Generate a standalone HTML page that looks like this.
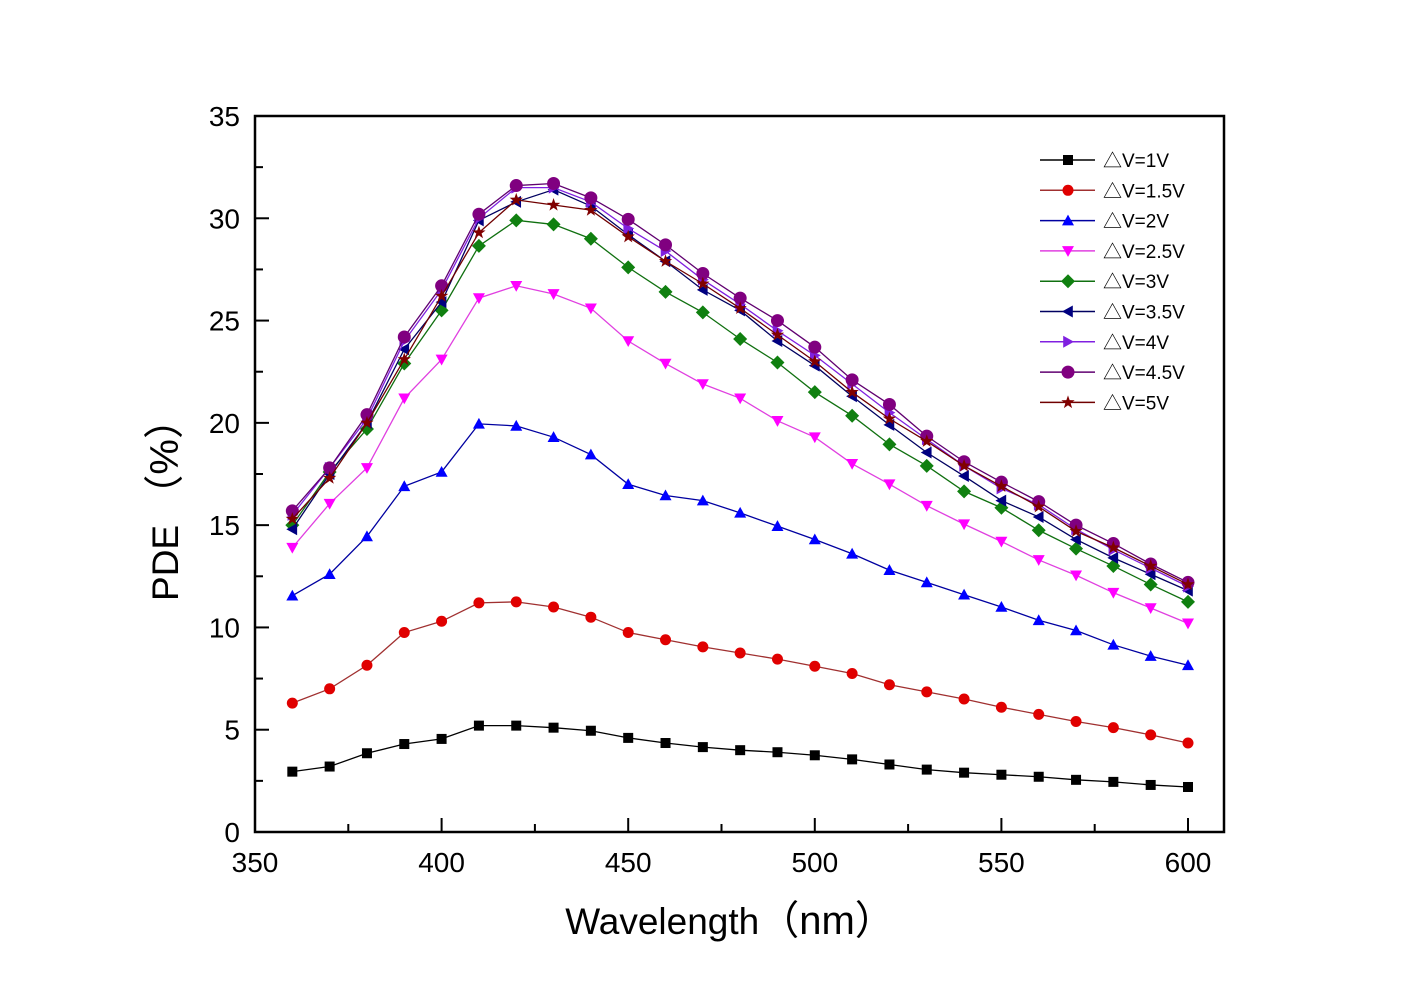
<!DOCTYPE html>
<html><head><meta charset="utf-8"><style>
body{margin:0;background:#fff}
svg{display:block;font-family:"Liberation Sans","Noto Sans CJK SC",sans-serif}
</style></head><body>
<svg id="s" width="1423" height="999" xmlns="http://www.w3.org/2000/svg">
<rect x="0" y="0" width="1423" height="999" fill="#fff"/>
<g id="ax"></g>
<g id="data"></g>
<rect x="255" y="116" width="969" height="716" fill="none" stroke="#000" stroke-width="2.5"/>
<text x="730" y="934" font-size="37" text-anchor="middle">Wavelength<tspan font-size="40">（nm）</tspan></text>
<text transform="translate(178,500) rotate(-90)" font-size="37" text-anchor="middle">PDE <tspan font-size="40">（%）</tspan></text>
</svg>
<script>
const NS="http://www.w3.org/2000/svg";
const X=v=>255+(v-350)*3.732, Y=v=>832-v*20.457;
function el(t,a,p,txt){const e=document.createElementNS(NS,t);for(const k in a)e.setAttribute(k,a[k]);if(txt!==undefined)e.textContent=txt;p.appendChild(e);return e;}
const ax=document.getElementById('ax'), dg=document.getElementById('data');
for(let v=350;v<=600;v+=25){const x=X(v);const L=v%50==0?14:8;el('line',{x1:x,y1:832,x2:x,y2:832-L,stroke:'#000','stroke-width':2},ax);
 if(v%50==0)el('text',{x:x,y:872,'font-size':28,'text-anchor':'middle'},ax,v);}
for(let v=0;v<=35;v+=2.5){const y=Y(v);const L=v%5==0?14:8;el('line',{x1:255,y1:y,x2:255+L,y2:y,stroke:'#000','stroke-width':2},ax);
 if(v%5==0)el('text',{x:240,y:y+10,'font-size':28,'text-anchor':'end'},ax,v);}
const S=[
["1V","#000","#000","sq",[2.95,3.2,3.85,4.3,4.55,5.2,5.2,5.1,4.95,4.6,4.35,4.15,4.0,3.9,3.75,3.55,3.3,3.05,2.9,2.8,2.7,2.55,2.45,2.3,2.2]],
["1.5V","#a03030","#e00000","ci",[6.3,7.0,8.15,9.75,10.3,11.2,11.25,11.0,10.5,9.75,9.4,9.05,8.75,8.45,8.1,7.75,7.2,6.85,6.5,6.1,5.75,5.4,5.1,4.75,4.35]],
["2V","#0000a0","#0000ff","tu",[11.55,12.6,14.45,16.9,17.6,19.95,19.85,19.3,18.45,17.0,16.45,16.2,15.6,14.95,14.3,13.6,12.8,12.2,11.6,11.0,10.35,9.85,9.15,8.6,8.15]],
["2.5V","#e040e0","#ff00ff","td",[13.9,16.05,17.8,21.2,23.1,26.1,26.7,26.3,25.6,24.0,22.9,21.9,21.2,20.1,19.3,18.0,17.0,15.95,15.05,14.2,13.3,12.55,11.7,10.95,10.2]],
["3V","#107010","#108010","di",[15.0,17.6,19.7,22.9,25.5,28.65,29.9,29.7,29.0,27.6,26.4,25.4,24.1,22.95,21.5,20.35,18.95,17.9,16.65,15.85,14.75,13.85,13.0,12.1,11.25]],
["3.5V","#000060","#000080","tl",[14.8,17.5,20.0,23.6,25.9,29.9,30.8,31.4,30.6,29.2,27.9,26.5,25.5,24.0,22.8,21.3,19.9,18.55,17.4,16.2,15.4,14.3,13.4,12.6,11.8]],
["4V","#8020e0","#8020e0","tr",[15.5,17.8,20.2,24.0,26.5,30.0,31.5,31.5,30.8,29.5,28.4,27.0,25.8,24.5,23.3,21.9,20.5,19.2,17.9,16.8,16.0,14.8,13.8,12.9,12.0]],
["4.5V","#600070","#800080","hx",[15.7,17.8,20.4,24.2,26.7,30.2,31.6,31.7,31.0,29.95,28.7,27.3,26.1,25.0,23.7,22.1,20.9,19.35,18.1,17.1,16.15,15.0,14.1,13.1,12.2]],
["5V","#700000","#800000","st",[15.3,17.3,20.0,23.1,26.2,29.3,30.9,30.65,30.4,29.1,27.9,26.8,25.6,24.3,23.0,21.5,20.2,19.1,17.9,16.9,15.9,14.7,13.9,13.0,12.1]]];
function mk(t,x,y,c,p){const r=6;
 if(t=='sq')el('rect',{x:x-5,y:y-5,width:10,height:10,fill:c},p);
 else if(t=='ci')el('circle',{cx:x,cy:y,r:5.5,fill:c},p);
 else if(t=='hx')el('circle',{cx:x,cy:y,r:6.5,fill:c},p);
 else{let pts;
  if(t=='tu')pts=[[0,-r],[r,r*0.8],[-r,r*0.8]];
  if(t=='td')pts=[[0,r],[r,-r*0.8],[-r,-r*0.8]];
  if(t=='tl')pts=[[-r,0],[r*0.8,-r],[r*0.8,r]];
  if(t=='tr')pts=[[r,0],[-r*0.8,-r],[-r*0.8,r]];
  if(t=='di')pts=[[0,-r-1],[r+1,0],[0,r+1],[-r-1,0]];
  if(t=='st'){pts=[];for(let i=0;i<10;i++){const a=-Math.PI/2+i*Math.PI/5,rr=i%2?2.8:7;pts.push([rr*Math.cos(a),rr*Math.sin(a)]);}}
  el('polygon',{points:pts.map(q=>(x+q[0])+','+(y+q[1])).join(' '),fill:c},p);}
}
S.forEach((s,i)=>{
 const pts=s[4].map((v,j)=>[X(360+10*j),Y(v)]);
 el('polyline',{points:pts.map(q=>q.join(',')).join(' '),fill:'none',stroke:s[1],'stroke-width':1.3},dg);
 pts.forEach(q=>mk(s[3],q[0],q[1],s[2],dg));
 const ly=160+i*30.3;
 el('line',{x1:1040,y1:ly,x2:1095,y2:ly,stroke:s[1],'stroke-width':1.5},dg);
 mk(s[3],1068,ly,s[2],dg);
 el('text',{x:1103,y:ly+7,'font-size':19},dg,'△V='+s[0]);
});
</script>
</body></html>
